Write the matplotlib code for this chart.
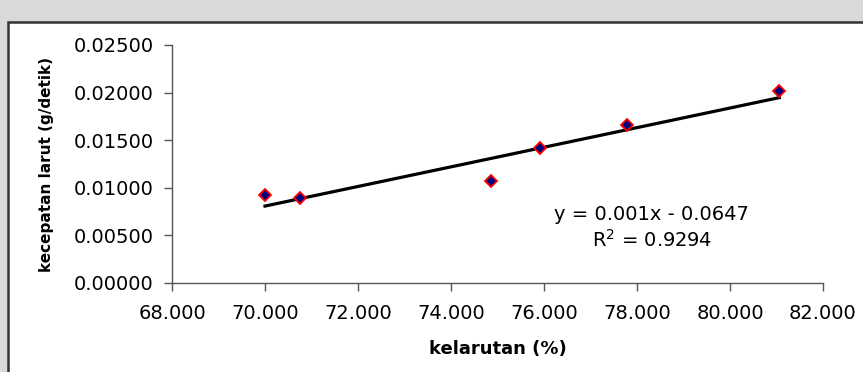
import numpy as np
import matplotlib
matplotlib.use('Agg')
import matplotlib.pyplot as plt
from matplotlib.patches import Rectangle

# data
kelarutan = [70.00, 70.76, 74.85, 75.91, 77.78, 81.06]
kecepatan = [0.00920, 0.00890, 0.01075, 0.01420, 0.01655, 0.02015]
eq_text = 'y = 0.001x - 0.0647'
r2_text = 'R$^{2}$ = 0.9294'

plt.rcParams['font.family'] = ['DejaVu Sans']
plt.rcParams['mathtext.default'] = 'regular'

W, H = 863, 372
fig = plt.figure(figsize=(W / 100, H / 100), dpi=100, facecolor='#d9d9d9')

# white chart area with dark border (right/bottom run off the page)
fig.patches.append(Rectangle((8 / W, -0.2), 1.2, (H - 22) / H + 0.2,
                             transform=fig.transFigure, facecolor='white',
                             edgecolor='#333333', lw=1.8, zorder=-10))

ax = fig.add_axes([172 / W, (H - 283) / H, (823 - 172) / W, (283 - 45) / H])
ax.set_facecolor('none')

# trend line
m, b = np.polyfit(kelarutan, kecepatan, 1)
xs = np.array([min(kelarutan), max(kelarutan)])
ax.plot(xs, m * xs + b, color='black', lw=2.3, zorder=2)

ax.plot(kelarutan, kecepatan, linestyle='none', marker='D', markersize=6.5,
        markerfacecolor='#000080', markeredgecolor='red',
        markeredgewidth=1.3, zorder=3)

ax.set_xlim(68, 82)
ax.set_ylim(0, 0.025)
ax.set_xticks(np.arange(68, 82.1, 2))
ax.set_yticks(np.arange(0, 0.02501, 0.005))
ax.xaxis.set_major_formatter(matplotlib.ticker.FormatStrFormatter('%.3f'))
ax.yaxis.set_major_formatter(matplotlib.ticker.FormatStrFormatter('%.5f'))

for s in ['top', 'right']:
    ax.spines[s].set_visible(False)
for s in ['left', 'bottom']:
    ax.spines[s].set_color('#555555')
    ax.spines[s].set_linewidth(1.0)
ax.tick_params(axis='both', direction='out', length=6, width=1.0,
               color='#555555', labelsize=14)
ax.tick_params(axis='x', pad=9)
ax.tick_params(axis='y', pad=7)

ax.set_xlabel('kelarutan (%)', fontsize=13, fontweight='bold', labelpad=12)
ax.set_ylabel('kecepatan larut (g/detik)', fontsize=11, fontweight='bold',
              labelpad=14)

ax.text(0.737, 0.265, eq_text, transform=ax.transAxes, ha='center',
        va='baseline', fontsize=14)
ax.text(0.737, 0.151, r2_text, transform=ax.transAxes, ha='center',
        va='baseline', fontsize=14)

fig.savefig('out.png', dpi=100, facecolor=fig.get_facecolor())
